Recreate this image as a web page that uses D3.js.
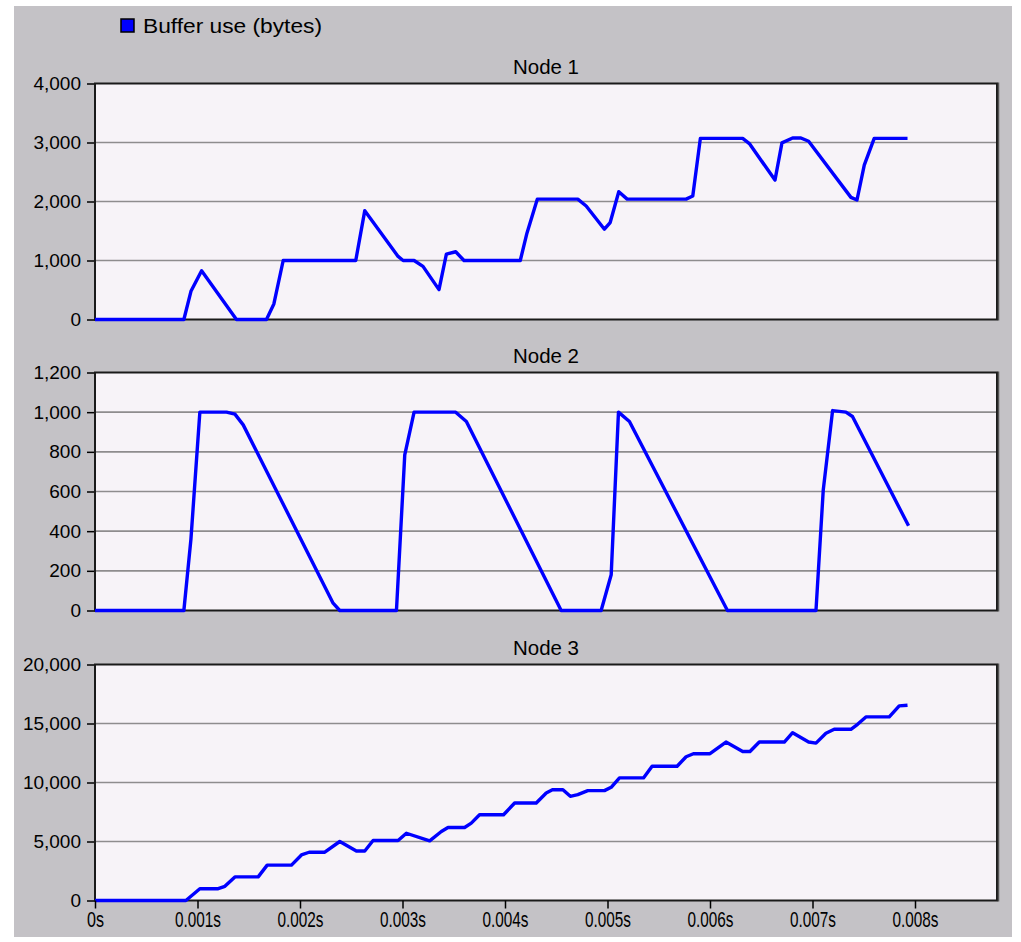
<!DOCTYPE html>
<html>
<head>
<meta charset="utf-8">
<script src="https://cdn.jsdelivr.net/npm/d3@7"></script>
<style>
  html, body { margin: 0; padding: 0; background: #ffffff; }
  svg { display: block; }
  text { font-family: "Liberation Sans", Arial, sans-serif; fill: #000; }
</style>
</head>
<body>
<svg id="chart" width="1021" height="942"></svg>
<script>
// ---- data ----
const legendLabel = "Buffer use (bytes)";
const panelTitles = ["Node 1", "Node 2", "Node 3"];

const node1Time = [0, 0.000867, 0.000936, 0.00104, 0.00138, 0.001673, 0.001745, 0.001836, 0.002544, 0.002632, 0.002957, 0.003006, 0.003113, 0.0032, 0.003356, 0.003428, 0.003519, 0.0036, 0.004149, 0.004214, 0.004315, 0.00471, 0.004792, 0.00497, 0.005026, 0.00511, 0.005192, 0.005767, 0.005832, 0.005906, 0.006319, 0.006384, 0.006634, 0.006702, 0.006806, 0.006887, 0.006962, 0.007375, 0.007434, 0.007505, 0.007602, 0.007927];
const node1Bytes = [0, 0, 478, 827, 0, 0, 264, 1000, 1000, 1845, 1069, 1000, 1000, 900, 506, 1108, 1148, 1000, 1000, 1463, 2040, 2040, 1924, 1530, 1643, 2166, 2040, 2040, 2093, 3070, 3070, 2982, 2363, 2993, 3077, 3077, 3021, 2070, 2025, 2616, 3070, 3070];

const node2Time = [0, 0.000867, 0.000936, 0.001023, 0.001283, 0.001365, 0.001446, 0.002323, 0.002388, 0.002941, 0.003022, 0.003113, 0.003519, 0.003623, 0.004548, 0.004938, 0.005036, 0.005107, 0.005214, 0.00617, 0.007034, 0.007105, 0.007196, 0.007326, 0.00739, 0.007937];
const node2Bytes = [0, 0, 360, 1000, 1000, 990, 936, 37, 0, 0, 785, 1000, 1000, 953, 0, 0, 180, 1000, 953, 0, 0, 608, 1008, 1000, 978, 427];

const node3Time = [0, 0.000887, 0.001023, 0.001202, 0.001267, 0.001365, 0.001592, 0.00168, 0.001917, 0.002014, 0.002089, 0.002242, 0.002388, 0.00255, 0.002632, 0.002713, 0.002957, 0.003038, 0.003265, 0.003379, 0.003444, 0.003606, 0.003671, 0.003752, 0.003986, 0.004094, 0.004305, 0.004402, 0.004467, 0.004565, 0.004637, 0.00471, 0.004808, 0.00497, 0.005036, 0.005117, 0.005351, 0.005435, 0.005679, 0.005767, 0.005838, 0.006, 0.006156, 0.006319, 0.00639, 0.006481, 0.006725, 0.006806, 0.006962, 0.007034, 0.007131, 0.007212, 0.007375, 0.00744, 0.007521, 0.007749, 0.007846, 0.007927];
const node3Bytes = [0, 0, 1000, 1000, 1200, 2000, 2000, 3000, 3000, 3860, 4090, 4090, 5000, 4200, 4200, 5080, 5080, 5700, 5050, 5850, 6190, 6190, 6560, 7270, 7270, 8260, 8260, 9110, 9400, 9380, 8830, 8970, 9310, 9310, 9590, 10390, 10390, 11380, 11380, 12180, 12440, 12440, 13430, 12630, 12630, 13430, 13430, 14220, 13430, 13340, 14170, 14510, 14510, 14930, 15560, 15560, 16490, 16550];

const node1YTicks = [0, 1000, 2000, 3000, 4000];
const node2YTicks = [0, 200, 400, 600, 800, 1000, 1200];
const node3YTicks = [0, 5000, 10000, 15000, 20000];
const xTicks = [0, 0.001, 0.002, 0.003, 0.004, 0.005, 0.006, 0.007, 0.008];

// ---- layout ----
const svg = d3.select("#chart");
const plotLeft = 95, plotRight = 997;
const panels = [
  { title: panelTitles[0], t: node1Time, v: node1Bytes, ticks: node1YTicks, max: 4000, top: 83.5, bottom: 319.5 },
  { title: panelTitles[1], t: node2Time, v: node2Bytes, ticks: node2YTicks, max: 1200, top: 372.5, bottom: 610.5 },
  { title: panelTitles[2], t: node3Time, v: node3Bytes, ticks: node3YTicks, max: 20000, top: 664.5, bottom: 900.5 }
];

svg.append("rect").attr("x", 14).attr("y", 6).attr("width", 998).attr("height", 931).attr("fill", "#c4c2c6");

// legend
svg.append("rect").attr("x", 121).attr("y", 19).attr("width", 13).attr("height", 13)
  .attr("fill", "#0000ff").attr("stroke", "#000").attr("stroke-width", 1.5);
svg.append("text").attr("x", 143).attr("y", 33).attr("font-size", 20)
  .attr("textLength", 179).attr("lengthAdjust", "spacingAndGlyphs").text(legendLabel);

const x = d3.scaleLinear().domain([0, 0.0088]).range([plotLeft, plotRight]);

panels.forEach((p, i) => {
  const y = d3.scaleLinear().domain([0, p.max]).range([p.bottom, p.top]);
  const g = svg.append("g");

  // plot background
  g.append("rect").attr("x", plotLeft).attr("y", p.top)
    .attr("width", plotRight - plotLeft).attr("height", p.bottom - p.top)
    .attr("fill", "#f7f3f8");

  // gridlines
  g.append("g").selectAll("line").data(p.ticks.filter(d => d > 0 && d < p.max)).join("line")
    .attr("x1", plotLeft).attr("x2", plotRight)
    .attr("y1", d => y(d)).attr("y2", d => y(d))
    .attr("stroke", "#8e8c8e").attr("stroke-width", 1.6);

  // y axis
  const yAxis = d3.axisLeft(y).tickValues(p.ticks).tickSize(8).tickPadding(6)
    .tickFormat(d3.format(","));
  const ya = g.append("g").attr("transform", `translate(${plotLeft},0)`).call(yAxis);
  ya.select(".domain").remove();
  ya.selectAll(".tick line").attr("stroke", "#000").attr("stroke-width", 1.5);
  ya.selectAll(".tick text").attr("font-size", 19).attr("font-family", "Liberation Sans, Arial, sans-serif").attr("fill", "#000");

  // frame
  g.append("rect").attr("x", plotLeft).attr("y", p.top)
    .attr("width", plotRight - plotLeft).attr("height", p.bottom - p.top)
    .attr("fill", "none").attr("stroke", "#1a1a1a").attr("stroke-width", 2);
  g.append("line").attr("x1", plotRight + 1.5).attr("x2", plotRight + 1.5)
    .attr("y1", p.top - 1).attr("y2", p.bottom + 1).attr("stroke", "#555").attr("stroke-width", 1.5);

  // title
  g.append("text").attr("x", (plotLeft + plotRight) / 2).attr("y", p.top - 10)
    .attr("text-anchor", "middle").attr("font-size", 20)
    .attr("textLength", 66).attr("lengthAdjust", "spacingAndGlyphs").text(p.title);

  // line
  const line = d3.line().x((d, j) => x(p.t[j])).y(d => y(d));
  g.append("path").datum(p.v).attr("d", line)
    .attr("fill", "none").attr("stroke", "#0000ff").attr("stroke-width", 3.4)
    .attr("stroke-linejoin", "round").attr("stroke-linecap", "butt");

  // x axis only on the bottom panel
  if (i === panels.length - 1) {
    const xAxis = d3.axisBottom(x).tickValues(xTicks).tickSize(8).tickPadding(3)
      .tickFormat(d => d === 0 ? "0s" : d3.format(".3f")(d) + "s");
    const xa = g.append("g").attr("transform", `translate(0,${p.bottom})`).call(xAxis);
    xa.select(".domain").remove();
    xa.selectAll(".tick line").attr("stroke", "#000").attr("stroke-width", 1.5);
    xa.selectAll(".tick text").attr("font-size", 22).attr("font-family", "Liberation Sans, Arial, sans-serif").attr("fill", "#000")
      .attr("textLength", d => d === 0 ? 17 : 46).attr("lengthAdjust", "spacingAndGlyphs");
  }
});
</script>
</body>
</html>
